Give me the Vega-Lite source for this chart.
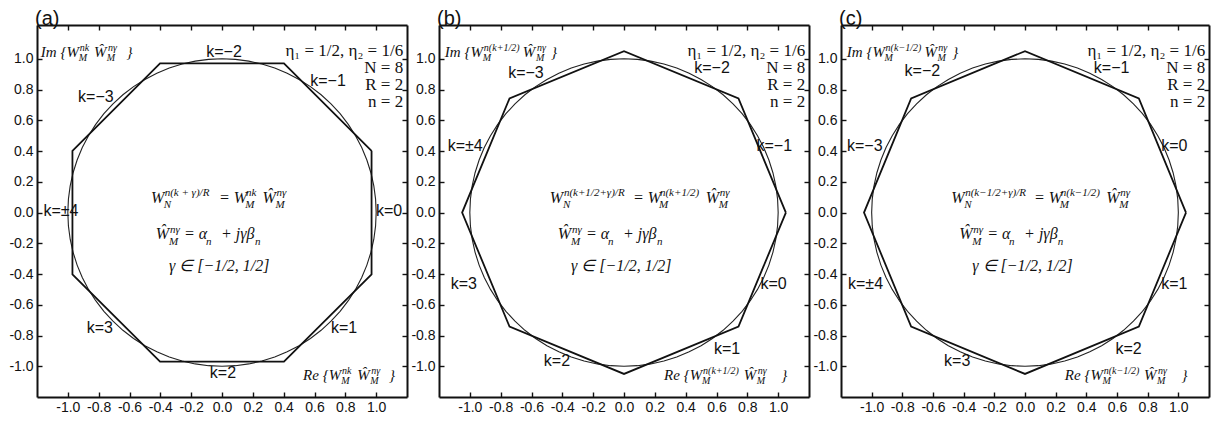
{
  "$schema": "https://vega.github.io/schema/vega-lite/v6.json",
  "background": "white",
  "padding": {"left": 8, "top": 9, "right": 4, "bottom": 2},
  "spacing": 32,
  "bounds": "flush",
  "datasets": {
    "circle": [
      {"i":0,"x":1,"y":0},{"i":1,"x":0.9962,"y":0.0872},{"i":2,"x":0.9848,"y":0.1736},{"i":3,"x":0.9659,"y":0.2588},
      {"i":4,"x":0.9397,"y":0.342},{"i":5,"x":0.9063,"y":0.4226},{"i":6,"x":0.866,"y":0.5},{"i":7,"x":0.8192,"y":0.5736},
      {"i":8,"x":0.766,"y":0.6428},{"i":9,"x":0.7071,"y":0.7071},{"i":10,"x":0.6428,"y":0.766},{"i":11,"x":0.5736,"y":0.8192},
      {"i":12,"x":0.5,"y":0.866},{"i":13,"x":0.4226,"y":0.9063},{"i":14,"x":0.342,"y":0.9397},{"i":15,"x":0.2588,"y":0.9659},
      {"i":16,"x":0.1736,"y":0.9848},{"i":17,"x":0.0872,"y":0.9962},{"i":18,"x":0,"y":1},{"i":19,"x":-0.0872,"y":0.9962},
      {"i":20,"x":-0.1736,"y":0.9848},{"i":21,"x":-0.2588,"y":0.9659},{"i":22,"x":-0.342,"y":0.9397},{"i":23,"x":-0.4226,"y":0.9063},
      {"i":24,"x":-0.5,"y":0.866},{"i":25,"x":-0.5736,"y":0.8192},{"i":26,"x":-0.6428,"y":0.766},{"i":27,"x":-0.7071,"y":0.7071},
      {"i":28,"x":-0.766,"y":0.6428},{"i":29,"x":-0.8192,"y":0.5736},{"i":30,"x":-0.866,"y":0.5},{"i":31,"x":-0.9063,"y":0.4226},
      {"i":32,"x":-0.9397,"y":0.342},{"i":33,"x":-0.9659,"y":0.2588},{"i":34,"x":-0.9848,"y":0.1736},{"i":35,"x":-0.9962,"y":0.0872},
      {"i":36,"x":-1,"y":0},{"i":37,"x":-0.9962,"y":-0.0872},{"i":38,"x":-0.9848,"y":-0.1736},{"i":39,"x":-0.9659,"y":-0.2588},
      {"i":40,"x":-0.9397,"y":-0.342},{"i":41,"x":-0.9063,"y":-0.4226},{"i":42,"x":-0.866,"y":-0.5},{"i":43,"x":-0.8192,"y":-0.5736},
      {"i":44,"x":-0.766,"y":-0.6428},{"i":45,"x":-0.7071,"y":-0.7071},{"i":46,"x":-0.6428,"y":-0.766},{"i":47,"x":-0.5736,"y":-0.8192},
      {"i":48,"x":-0.5,"y":-0.866},{"i":49,"x":-0.4226,"y":-0.9063},{"i":50,"x":-0.342,"y":-0.9397},{"i":51,"x":-0.2588,"y":-0.9659},
      {"i":52,"x":-0.1736,"y":-0.9848},{"i":53,"x":-0.0872,"y":-0.9962},{"i":54,"x":0,"y":-1},{"i":55,"x":0.0872,"y":-0.9962},
      {"i":56,"x":0.1736,"y":-0.9848},{"i":57,"x":0.2588,"y":-0.9659},{"i":58,"x":0.342,"y":-0.9397},{"i":59,"x":0.4226,"y":-0.9063},
      {"i":60,"x":0.5,"y":-0.866},{"i":61,"x":0.5736,"y":-0.8192},{"i":62,"x":0.6428,"y":-0.766},{"i":63,"x":0.7071,"y":-0.7071},
      {"i":64,"x":0.766,"y":-0.6428},{"i":65,"x":0.8192,"y":-0.5736},{"i":66,"x":0.866,"y":-0.5},{"i":67,"x":0.9063,"y":-0.4226},
      {"i":68,"x":0.9397,"y":-0.342},{"i":69,"x":0.9659,"y":-0.2588},{"i":70,"x":0.9848,"y":-0.1736},{"i":71,"x":0.9962,"y":-0.0872},
      {"i":72,"x":1,"y":0}
    ],
    "octA": [
      {"i":0,"x":0.9701,"y":0.4018},{"i":1,"x":0.4018,"y":0.9701},{"i":2,"x":-0.4018,"y":0.9701},{"i":3,"x":-0.9701,"y":0.4018},
      {"i":4,"x":-0.9701,"y":-0.4018},{"i":5,"x":-0.4018,"y":-0.9701},{"i":6,"x":0.4018,"y":-0.9701},{"i":7,"x":0.9701,"y":-0.4018},
      {"i":8,"x":0.9701,"y":0.4018}
    ],
    "octB": [
      {"i":0,"x":1.05,"y":0},{"i":1,"x":0.7425,"y":0.7425},{"i":2,"x":0,"y":1.05},{"i":3,"x":-0.7425,"y":0.7425},
      {"i":4,"x":-1.05,"y":0},{"i":5,"x":-0.7425,"y":-0.7425},{"i":6,"x":0,"y":-1.05},{"i":7,"x":0.7425,"y":-0.7425},
      {"i":8,"x":1.05,"y":0}
    ],
    "notes": [
      {"p":"a","r":"k","x":0.013,"y":1.045,"t":"k=−2"},
      {"p":"a","r":"k","x":0.688,"y":0.857,"t":"k=−1"},
      {"p":"a","r":"k","x":-0.818,"y":0.753,"t":"k=−3"},
      {"p":"a","r":"k","x":-1.045,"y":0.01,"t":"k=±4"},
      {"p":"a","r":"k","x":1.084,"y":0.01,"t":"k=0"},
      {"p":"a","r":"k","x":-0.792,"y":-0.753,"t":"k=3"},
      {"p":"a","r":"k","x":0.792,"y":-0.753,"t":"k=1"},
      {"p":"a","r":"k","x":0.006,"y":-1.045,"t":"k=2"},

      {"p":"b","r":"k","x":-0.636,"y":0.909,"t":"k=−3"},
      {"p":"b","r":"k","x":0.571,"y":0.942,"t":"k=−2"},
      {"p":"b","r":"k","x":0.975,"y":0.433,"t":"k=−1"},
      {"p":"b","r":"k","x":-1.03,"y":0.433,"t":"k=±4"},
      {"p":"b","r":"k","x":-1.039,"y":-0.466,"t":"k=3"},
      {"p":"b","r":"k","x":0.97,"y":-0.466,"t":"k=0"},
      {"p":"b","r":"k","x":-0.435,"y":-0.968,"t":"k=2"},
      {"p":"b","r":"k","x":0.669,"y":-0.89,"t":"k=1"},

      {"p":"c","r":"k","x":-0.669,"y":0.922,"t":"k=−2"},
      {"p":"c","r":"k","x":0.565,"y":0.942,"t":"k=−1"},
      {"p":"c","r":"k","x":-1.045,"y":0.433,"t":"k=−3"},
      {"p":"c","r":"k","x":0.974,"y":0.433,"t":"k=0"},
      {"p":"c","r":"k","x":-1.04,"y":-0.466,"t":"k=±4"},
      {"p":"c","r":"k","x":0.974,"y":-0.466,"t":"k=1"},
      {"p":"c","r":"k","x":-0.442,"y":-0.968,"t":"k=3"},
      {"p":"c","r":"k","x":0.675,"y":-0.89,"t":"k=2"},

      {"p":"a","r":"par","x":1.175,"y":1.019,"t":"η₁ = 1/2, η₂ = 1/6"},
      {"p":"a","r":"par","x":1.175,"y":0.909,"t":"N = 8"},
      {"p":"a","r":"par","x":1.175,"y":0.799,"t":"R = 2"},
      {"p":"a","r":"par","x":1.175,"y":0.688,"t":"n = 2"},
      {"p":"b","r":"par","x":1.175,"y":1.019,"t":"η₁ = 1/2, η₂ = 1/6"},
      {"p":"b","r":"par","x":1.175,"y":0.909,"t":"N = 8"},
      {"p":"b","r":"par","x":1.175,"y":0.799,"t":"R = 2"},
      {"p":"b","r":"par","x":1.175,"y":0.688,"t":"n = 2"},
      {"p":"c","r":"par","x":1.175,"y":1.019,"t":"η₁ = 1/2, η₂ = 1/6"},
      {"p":"c","r":"par","x":1.175,"y":0.909,"t":"N = 8"},
      {"p":"c","r":"par","x":1.175,"y":0.799,"t":"R = 2"},
      {"p":"c","r":"par","x":1.175,"y":0.688,"t":"n = 2"},

      {"p":"a","r":"m","x":-0.46,"y":0.065,"t":"W"},
      {"p":"a","r":"s","x":-0.378,"y":0.032,"t":"N"},
      {"p":"a","r":"s","x":-0.372,"y":0.11,"t":"n(k + γ)/R"},
      {"p":"a","r":"m","x":-0.02,"y":0.065,"t":"= W"},
      {"p":"a","r":"s","x":0.15,"y":0.032,"t":"M"},
      {"p":"a","r":"s","x":0.156,"y":0.11,"t":"nk"},
      {"p":"a","r":"m","x":0.262,"y":0.065,"t":"Ŵ"},
      {"p":"a","r":"s","x":0.347,"y":0.032,"t":"M"},
      {"p":"a","r":"s","x":0.353,"y":0.11,"t":"nγ"},
      {"p":"a","r":"m","x":-0.429,"y":-0.175,"t":"Ŵ"},
      {"p":"a","r":"s","x":-0.344,"y":-0.208,"t":"M"},
      {"p":"a","r":"s","x":-0.338,"y":-0.13,"t":"nγ"},
      {"p":"a","r":"m","x":-0.247,"y":-0.175,"t":"= α"},
      {"p":"a","r":"s","x":-0.104,"y":-0.208,"t":"n"},
      {"p":"a","r":"m","x":-0.006,"y":-0.175,"t":"+ jγβ"},
      {"p":"a","r":"s","x":0.214,"y":-0.208,"t":"n"},
      {"p":"a","r":"m","x":-0.344,"y":-0.383,"t":"γ ∈ [−1/2, 1/2]"},
      {"p":"a","r":"lm","x":-1.175,"y":1.013,"t":"Im {W"},
      {"p":"a","r":"ls","x":-0.929,"y":0.987,"t":"M"},
      {"p":"a","r":"ls","x":-0.922,"y":1.052,"t":"nk"},
      {"p":"a","r":"lm","x":-0.831,"y":1.013,"t":"Ŵ"},
      {"p":"a","r":"ls","x":-0.747,"y":0.987,"t":"M"},
      {"p":"a","r":"ls","x":-0.74,"y":1.052,"t":"nγ"},
      {"p":"a","r":"lm","x":-0.62,"y":1.013,"t":"}"},
      {"p":"a","r":"lm","x":0.526,"y":-1.091,"t":"Re {W"},
      {"p":"a","r":"ls","x":0.773,"y":-1.117,"t":"M"},
      {"p":"a","r":"ls","x":0.779,"y":-1.052,"t":"nk"},
      {"p":"a","r":"lm","x":0.877,"y":-1.091,"t":"Ŵ"},
      {"p":"a","r":"ls","x":0.961,"y":-1.117,"t":"M"},
      {"p":"a","r":"ls","x":0.968,"y":-1.052,"t":"nγ"},
      {"p":"a","r":"lm","x":1.084,"y":-1.091,"t":"}"},

      {"p":"b","r":"m","x":-0.481,"y":0.065,"t":"W"},
      {"p":"b","r":"s","x":-0.396,"y":0.032,"t":"N"},
      {"p":"b","r":"s","x":-0.39,"y":0.11,"t":"n(k+1/2+γ)/R"},
      {"p":"b","r":"m","x":0.058,"y":0.065,"t":"= W"},
      {"p":"b","r":"s","x":0.227,"y":0.032,"t":"M"},
      {"p":"b","r":"s","x":0.233,"y":0.11,"t":"n(k+1/2)"},
      {"p":"b","r":"m","x":0.53,"y":0.065,"t":"Ŵ"},
      {"p":"b","r":"s","x":0.614,"y":0.032,"t":"M"},
      {"p":"b","r":"s","x":0.621,"y":0.11,"t":"nγ"},
      {"p":"b","r":"m","x":-0.429,"y":-0.175,"t":"Ŵ"},
      {"p":"b","r":"s","x":-0.344,"y":-0.208,"t":"M"},
      {"p":"b","r":"s","x":-0.338,"y":-0.13,"t":"nγ"},
      {"p":"b","r":"m","x":-0.247,"y":-0.175,"t":"= α"},
      {"p":"b","r":"s","x":-0.104,"y":-0.208,"t":"n"},
      {"p":"b","r":"m","x":-0.006,"y":-0.175,"t":"+ jγβ"},
      {"p":"b","r":"s","x":0.214,"y":-0.208,"t":"n"},
      {"p":"b","r":"m","x":-0.344,"y":-0.383,"t":"γ ∈ [−1/2, 1/2]"},
      {"p":"b","r":"lm","x":-1.162,"y":1.013,"t":"Im {W"},
      {"p":"b","r":"ls","x":-0.916,"y":0.987,"t":"M"},
      {"p":"b","r":"ls","x":-0.909,"y":1.052,"t":"n(k+1/2)"},
      {"p":"b","r":"lm","x":-0.656,"y":1.013,"t":"Ŵ"},
      {"p":"b","r":"ls","x":-0.571,"y":0.987,"t":"M"},
      {"p":"b","r":"ls","x":-0.565,"y":1.052,"t":"nγ"},
      {"p":"b","r":"lm","x":-0.474,"y":1.013,"t":"}"},
      {"p":"b","r":"lm","x":0.26,"y":-1.091,"t":"Re {W"},
      {"p":"b","r":"ls","x":0.506,"y":-1.117,"t":"M"},
      {"p":"b","r":"ls","x":0.513,"y":-1.052,"t":"n(k+1/2)"},
      {"p":"b","r":"lm","x":0.776,"y":-1.091,"t":"Ŵ"},
      {"p":"b","r":"ls","x":0.861,"y":-1.117,"t":"M"},
      {"p":"b","r":"ls","x":0.867,"y":-1.052,"t":"nγ"},
      {"p":"b","r":"lm","x":1.02,"y":-1.091,"t":"}"},

      {"p":"c","r":"m","x":-0.481,"y":0.065,"t":"W"},
      {"p":"c","r":"s","x":-0.396,"y":0.032,"t":"N"},
      {"p":"c","r":"s","x":-0.39,"y":0.11,"t":"n(k−1/2+γ)/R"},
      {"p":"c","r":"m","x":0.058,"y":0.065,"t":"= W"},
      {"p":"c","r":"s","x":0.227,"y":0.032,"t":"M"},
      {"p":"c","r":"s","x":0.233,"y":0.11,"t":"n(k−1/2)"},
      {"p":"c","r":"m","x":0.53,"y":0.065,"t":"Ŵ"},
      {"p":"c","r":"s","x":0.614,"y":0.032,"t":"M"},
      {"p":"c","r":"s","x":0.621,"y":0.11,"t":"nγ"},
      {"p":"c","r":"m","x":-0.429,"y":-0.175,"t":"Ŵ"},
      {"p":"c","r":"s","x":-0.344,"y":-0.208,"t":"M"},
      {"p":"c","r":"s","x":-0.338,"y":-0.13,"t":"nγ"},
      {"p":"c","r":"m","x":-0.247,"y":-0.175,"t":"= α"},
      {"p":"c","r":"s","x":-0.104,"y":-0.208,"t":"n"},
      {"p":"c","r":"m","x":-0.006,"y":-0.175,"t":"+ jγβ"},
      {"p":"c","r":"s","x":0.214,"y":-0.208,"t":"n"},
      {"p":"c","r":"m","x":-0.344,"y":-0.383,"t":"γ ∈ [−1/2, 1/2]"},
      {"p":"c","r":"lm","x":-1.162,"y":1.013,"t":"Im {W"},
      {"p":"c","r":"ls","x":-0.916,"y":0.987,"t":"M"},
      {"p":"c","r":"ls","x":-0.909,"y":1.052,"t":"n(k−1/2)"},
      {"p":"c","r":"lm","x":-0.656,"y":1.013,"t":"Ŵ"},
      {"p":"c","r":"ls","x":-0.571,"y":0.987,"t":"M"},
      {"p":"c","r":"ls","x":-0.565,"y":1.052,"t":"nγ"},
      {"p":"c","r":"lm","x":-0.474,"y":1.013,"t":"}"},
      {"p":"c","r":"lm","x":0.26,"y":-1.091,"t":"Re {W"},
      {"p":"c","r":"ls","x":0.506,"y":-1.117,"t":"M"},
      {"p":"c","r":"ls","x":0.513,"y":-1.052,"t":"n(k−1/2)"},
      {"p":"c","r":"lm","x":0.776,"y":-1.091,"t":"Ŵ"},
      {"p":"c","r":"ls","x":0.861,"y":-1.117,"t":"M"},
      {"p":"c","r":"ls","x":0.867,"y":-1.052,"t":"nγ"},
      {"p":"c","r":"lm","x":1.02,"y":-1.091,"t":"}"}
    ]
  },
  "hconcat": [
    {
      "width": 370, "height": 372,
      "title": "(a)",
      "layer": [
        {"data": {"name": "circle"}, "mark": {"type": "line", "stroke": "#222", "strokeWidth": 1.1},
         "encoding": {
           "x": {"field": "x", "type": "quantitative", "scale": {"domain": [-1.2, 1.2], "nice": false, "zero": false},
                 "axis": {"orient": "bottom", "title": null, "values": [-1,-0.8,-0.6,-0.4,-0.2,0,0.2,0.4,0.6,0.8,1], "labelExpr": "(datum.value < -0.001 ? '-' : '') + format(abs(datum.value), '.1f')"}},
           "y": {"field": "y", "type": "quantitative", "scale": {"domain": [-1.2, 1.22], "nice": false, "zero": false},
                 "axis": {"orient": "left", "title": null, "values": [-1,-0.8,-0.6,-0.4,-0.2,0,0.2,0.4,0.6,0.8,1], "labelExpr": "(datum.value < -0.001 ? '-' : '') + format(abs(datum.value), '.1f')"}},
           "order": {"field": "i", "type": "quantitative"}}},
        {"data": {"name": "octA"}, "mark": {"type": "line", "stroke": "#111", "strokeWidth": 1.8},
         "encoding": {
           "x": {"field": "x", "type": "quantitative", "scale": {"domain": [-1.2, 1.2], "nice": false, "zero": false},
                 "axis": {"orient": "top", "title": null, "labels": false, "values": [-1,-0.8,-0.6,-0.4,-0.2,0,0.2,0.4,0.6,0.8,1]}},
           "y": {"field": "y", "type": "quantitative", "scale": {"domain": [-1.2, 1.22], "nice": false, "zero": false},
                 "axis": {"orient": "right", "title": null, "labels": false, "values": [-1,-0.8,-0.6,-0.4,-0.2,0,0.2,0.4,0.6,0.8,1]}},
           "order": {"field": "i", "type": "quantitative"}}},
        {"data": {"name": "notes"}, "transform": [{"filter": "datum.p == 'a' && datum.r == 'k'"}],
         "mark": {"type": "text", "font": "Liberation Sans", "fontSize": 16, "align": "center", "baseline": "middle", "color": "#111"},
         "encoding": {
           "x": {"field": "x", "type": "quantitative", "scale": {"domain": [-1.2, 1.2], "nice": false, "zero": false}, "axis": null},
           "y": {"field": "y", "type": "quantitative", "scale": {"domain": [-1.2, 1.22], "nice": false, "zero": false}, "axis": null},
           "text": {"field": "t"}}},
        {"data": {"name": "notes"}, "transform": [{"filter": "datum.p == 'a' && datum.r == 'par'"}],
         "mark": {"type": "text", "font": "Liberation Serif", "fontSize": 17, "align": "right", "baseline": "alphabetic", "color": "#111"},
         "encoding": {
           "x": {"field": "x", "type": "quantitative", "scale": {"domain": [-1.2, 1.2], "nice": false, "zero": false}, "axis": null},
           "y": {"field": "y", "type": "quantitative", "scale": {"domain": [-1.2, 1.22], "nice": false, "zero": false}, "axis": null},
           "text": {"field": "t"}}},
        {"data": {"name": "notes"}, "transform": [{"filter": "datum.p == 'a' && datum.r != 'k' && datum.r != 'par'"}],
         "mark": {"type": "text", "font": "Liberation Serif", "fontStyle": "italic", "align": "left", "baseline": "alphabetic", "color": "#111"},
         "encoding": {
           "x": {"field": "x", "type": "quantitative", "scale": {"domain": [-1.2, 1.2], "nice": false, "zero": false}, "axis": null},
           "y": {"field": "y", "type": "quantitative", "scale": {"domain": [-1.2, 1.22], "nice": false, "zero": false}, "axis": null},
           "size": {"field": "r", "type": "nominal", "scale": {"type": "ordinal", "domain": ["m", "s", "lm", "ls"], "range": [16, 11, 15, 10]}, "legend": null},
           "text": {"field": "t"}}}
      ],
      "resolve": {"axis": {"x": "independent", "y": "independent"}}
    },
    {
      "width": 370, "height": 372,
      "title": "(b)",
      "layer": [
        {"data": {"name": "circle"}, "mark": {"type": "line", "stroke": "#222", "strokeWidth": 1.1},
         "encoding": {
           "x": {"field": "x", "type": "quantitative", "scale": {"domain": [-1.2, 1.2], "nice": false, "zero": false},
                 "axis": {"orient": "bottom", "title": null, "values": [-1,-0.8,-0.6,-0.4,-0.2,0,0.2,0.4,0.6,0.8,1], "labelExpr": "(datum.value < -0.001 ? '-' : '') + format(abs(datum.value), '.1f')"}},
           "y": {"field": "y", "type": "quantitative", "scale": {"domain": [-1.2, 1.22], "nice": false, "zero": false},
                 "axis": {"orient": "left", "title": null, "values": [-1,-0.8,-0.6,-0.4,-0.2,0,0.2,0.4,0.6,0.8,1], "labelExpr": "(datum.value < -0.001 ? '-' : '') + format(abs(datum.value), '.1f')"}},
           "order": {"field": "i", "type": "quantitative"}}},
        {"data": {"name": "octB"}, "mark": {"type": "line", "stroke": "#111", "strokeWidth": 1.8},
         "encoding": {
           "x": {"field": "x", "type": "quantitative", "scale": {"domain": [-1.2, 1.2], "nice": false, "zero": false},
                 "axis": {"orient": "top", "title": null, "labels": false, "values": [-1,-0.8,-0.6,-0.4,-0.2,0,0.2,0.4,0.6,0.8,1]}},
           "y": {"field": "y", "type": "quantitative", "scale": {"domain": [-1.2, 1.22], "nice": false, "zero": false},
                 "axis": {"orient": "right", "title": null, "labels": false, "values": [-1,-0.8,-0.6,-0.4,-0.2,0,0.2,0.4,0.6,0.8,1]}},
           "order": {"field": "i", "type": "quantitative"}}},
        {"data": {"name": "notes"}, "transform": [{"filter": "datum.p == 'b' && datum.r == 'k'"}],
         "mark": {"type": "text", "font": "Liberation Sans", "fontSize": 16, "align": "center", "baseline": "middle", "color": "#111"},
         "encoding": {
           "x": {"field": "x", "type": "quantitative", "scale": {"domain": [-1.2, 1.2], "nice": false, "zero": false}, "axis": null},
           "y": {"field": "y", "type": "quantitative", "scale": {"domain": [-1.2, 1.22], "nice": false, "zero": false}, "axis": null},
           "text": {"field": "t"}}},
        {"data": {"name": "notes"}, "transform": [{"filter": "datum.p == 'b' && datum.r == 'par'"}],
         "mark": {"type": "text", "font": "Liberation Serif", "fontSize": 17, "align": "right", "baseline": "alphabetic", "color": "#111"},
         "encoding": {
           "x": {"field": "x", "type": "quantitative", "scale": {"domain": [-1.2, 1.2], "nice": false, "zero": false}, "axis": null},
           "y": {"field": "y", "type": "quantitative", "scale": {"domain": [-1.2, 1.22], "nice": false, "zero": false}, "axis": null},
           "text": {"field": "t"}}},
        {"data": {"name": "notes"}, "transform": [{"filter": "datum.p == 'b' && datum.r != 'k' && datum.r != 'par'"}],
         "mark": {"type": "text", "font": "Liberation Serif", "fontStyle": "italic", "align": "left", "baseline": "alphabetic", "color": "#111"},
         "encoding": {
           "x": {"field": "x", "type": "quantitative", "scale": {"domain": [-1.2, 1.2], "nice": false, "zero": false}, "axis": null},
           "y": {"field": "y", "type": "quantitative", "scale": {"domain": [-1.2, 1.22], "nice": false, "zero": false}, "axis": null},
           "size": {"field": "r", "type": "nominal", "scale": {"type": "ordinal", "domain": ["m", "s", "lm", "ls"], "range": [16, 11, 15, 10]}, "legend": null},
           "text": {"field": "t"}}}
      ],
      "resolve": {"axis": {"x": "independent", "y": "independent"}}
    },
    {
      "width": 368, "height": 372,
      "title": "(c)",
      "layer": [
        {"data": {"name": "circle"}, "mark": {"type": "line", "stroke": "#222", "strokeWidth": 1.1},
         "encoding": {
           "x": {"field": "x", "type": "quantitative", "scale": {"domain": [-1.2, 1.2], "nice": false, "zero": false},
                 "axis": {"orient": "bottom", "title": null, "values": [-1,-0.8,-0.6,-0.4,-0.2,0,0.2,0.4,0.6,0.8,1], "labelExpr": "(datum.value < -0.001 ? '-' : '') + format(abs(datum.value), '.1f')"}},
           "y": {"field": "y", "type": "quantitative", "scale": {"domain": [-1.2, 1.22], "nice": false, "zero": false},
                 "axis": {"orient": "left", "title": null, "values": [-1,-0.8,-0.6,-0.4,-0.2,0,0.2,0.4,0.6,0.8,1], "labelExpr": "(datum.value < -0.001 ? '-' : '') + format(abs(datum.value), '.1f')"}},
           "order": {"field": "i", "type": "quantitative"}}},
        {"data": {"name": "octB"}, "mark": {"type": "line", "stroke": "#111", "strokeWidth": 1.8},
         "encoding": {
           "x": {"field": "x", "type": "quantitative", "scale": {"domain": [-1.2, 1.2], "nice": false, "zero": false},
                 "axis": {"orient": "top", "title": null, "labels": false, "values": [-1,-0.8,-0.6,-0.4,-0.2,0,0.2,0.4,0.6,0.8,1]}},
           "y": {"field": "y", "type": "quantitative", "scale": {"domain": [-1.2, 1.22], "nice": false, "zero": false},
                 "axis": {"orient": "right", "title": null, "labels": false, "values": [-1,-0.8,-0.6,-0.4,-0.2,0,0.2,0.4,0.6,0.8,1]}},
           "order": {"field": "i", "type": "quantitative"}}},
        {"data": {"name": "notes"}, "transform": [{"filter": "datum.p == 'c' && datum.r == 'k'"}],
         "mark": {"type": "text", "font": "Liberation Sans", "fontSize": 16, "align": "center", "baseline": "middle", "color": "#111"},
         "encoding": {
           "x": {"field": "x", "type": "quantitative", "scale": {"domain": [-1.2, 1.2], "nice": false, "zero": false}, "axis": null},
           "y": {"field": "y", "type": "quantitative", "scale": {"domain": [-1.2, 1.22], "nice": false, "zero": false}, "axis": null},
           "text": {"field": "t"}}},
        {"data": {"name": "notes"}, "transform": [{"filter": "datum.p == 'c' && datum.r == 'par'"}],
         "mark": {"type": "text", "font": "Liberation Serif", "fontSize": 17, "align": "right", "baseline": "alphabetic", "color": "#111"},
         "encoding": {
           "x": {"field": "x", "type": "quantitative", "scale": {"domain": [-1.2, 1.2], "nice": false, "zero": false}, "axis": null},
           "y": {"field": "y", "type": "quantitative", "scale": {"domain": [-1.2, 1.22], "nice": false, "zero": false}, "axis": null},
           "text": {"field": "t"}}},
        {"data": {"name": "notes"}, "transform": [{"filter": "datum.p == 'c' && datum.r != 'k' && datum.r != 'par'"}],
         "mark": {"type": "text", "font": "Liberation Serif", "fontStyle": "italic", "align": "left", "baseline": "alphabetic", "color": "#111"},
         "encoding": {
           "x": {"field": "x", "type": "quantitative", "scale": {"domain": [-1.2, 1.2], "nice": false, "zero": false}, "axis": null},
           "y": {"field": "y", "type": "quantitative", "scale": {"domain": [-1.2, 1.22], "nice": false, "zero": false}, "axis": null},
           "size": {"field": "r", "type": "nominal", "scale": {"type": "ordinal", "domain": ["m", "s", "lm", "ls"], "range": [16, 11, 15, 10]}, "legend": null},
           "text": {"field": "t"}}}
      ],
      "resolve": {"axis": {"x": "independent", "y": "independent"}}
    }
  ],
  "config": {
    "view": {"stroke": null},
    "axis": {"domainColor": "#111", "domainWidth": 2, "tickColor": "#111", "tickWidth": 1.4, "tickSize": -5,
             "labelColor": "#111", "labelFont": "Liberation Sans", "labelFontSize": 14, "grid": false},
    "axisX": {"labelPadding": 8},
    "axisY": {"labelPadding": 9},
    "title": {"anchor": "start", "frame": "group", "dx": -2, "fontSize": 20, "font": "Liberation Sans", "fontWeight": "normal", "color": "#111", "offset": -5}
  }
}
